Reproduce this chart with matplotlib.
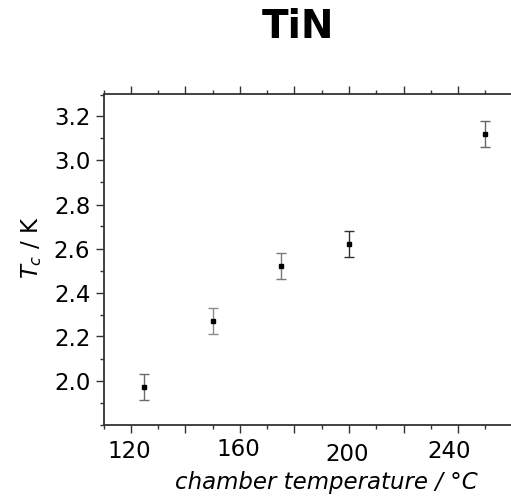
import matplotlib
matplotlib.use("Agg")
import matplotlib.pyplot as plt
from matplotlib.ticker import FixedLocator, MultipleLocator, FixedFormatter
from matplotlib.transforms import ScaledTranslation

temperature = [125, 150, 175, 200, 250]
tc = [1.97, 2.27, 2.52, 2.62, 3.12]
tc_err = [0.06, 0.06, 0.06, 0.06, 0.06]
err_colors = ["#6a6a6a", "#8a8a8a", "#7a7a7a", "#333333", "#666666"]
x_major = [120, 140, 160, 180, 200, 220, 240, 260]
x_labels = ["120", "", "160", "", "200", "", "240", ""]
y_major = [2.0, 2.2, 2.4, 2.6, 2.8, 3.0, 3.2]

plt.rcParams['font.family'] = ['DejaVu Sans']
fig = plt.figure(figsize=(5.11, 4.98), dpi=100)
W, H = 511, 498
left, right, bottom, top = 103.5, 540.0, 424.5, 94.5
ax = fig.add_axes([left / W, 1 - bottom / H, (right - left) / W, (bottom - top) / H])

for x, y, e, c in zip(temperature, tc, tc_err, err_colors):
    ax.errorbar([x], [y], yerr=[e], fmt='s', color='black', markersize=3,
                ecolor=c, elinewidth=1.0, capsize=3.5, capthick=1.0, zorder=3)

ax.set_xlim(110, 270)
ax.set_ylim(1.8, 3.3)

spine_c = '#333333'
for s in ['left', 'top', 'bottom']:
    ax.spines[s].set_color(spine_c)
    ax.spines[s].set_linewidth(1.3)
ax.spines['right'].set_visible(False)

ax.xaxis.set_major_locator(FixedLocator(x_major))
ax.xaxis.set_major_formatter(FixedFormatter(x_labels))
ax.xaxis.set_minor_locator(MultipleLocator(10))
ax.yaxis.set_major_locator(FixedLocator(y_major))
ax.yaxis.set_minor_locator(MultipleLocator(0.1))
ax.set_yticklabels(["%.1f" % v for v in y_major])

ax.tick_params(axis='x', which='both', direction='out', top=True, bottom=True,
               color=spine_c, labelsize=16.5, pad=5)
ax.tick_params(axis='y', which='both', direction='out', left=True, right=False,
               color=spine_c, labelsize=16.5, pad=4)
ax.tick_params(which='major', length=5.5, width=1.0)
ax.tick_params(which='minor', length=3, width=1.0)

# per-label small offsets as in reference (pixels)
offsets = {0: (-1.5, -1), 2: (-2, 1.5), 4: (-1.5, -4), 6: (-9.5, -1)}
ticks = ax.xaxis.get_major_ticks()
for i, (dx, dy) in offsets.items():
    lab = ticks[i].label1
    lab.set_transform(lab.get_transform() + ScaledTranslation(dx / 100, dy / 100, fig.dpi_scale_trans))

fig.text(326 / W, 1 - 489 / H, "chamber temperature / °C", fontsize=16.5, style='italic',
         ha='center', va='baseline')
fig.text(32 / W, 1 - 247 / H, "$T_c$ / K", fontsize=16.5, rotation=90,
         ha='center', va='center')
fig.text(298 / W, 1 - 38 / H, "TiN", fontsize=28, fontweight='bold',
         ha='center', va='baseline')

fig.savefig("out.png", dpi=100)
